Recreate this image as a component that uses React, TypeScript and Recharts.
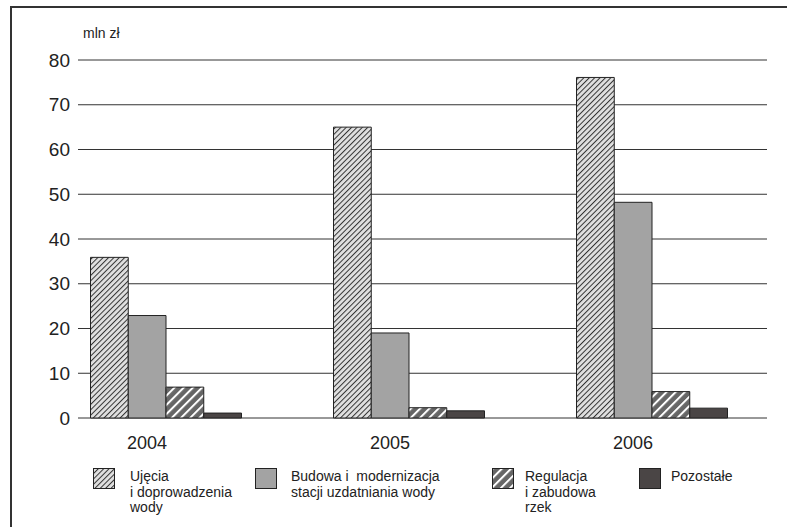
import React from 'react';
import { BarChart, Bar, XAxis, YAxis, CartesianGrid, Legend } from 'recharts';

const YEARS = ['2004', '2005', '2006'];
const UJECIA = [35.9, 65.0, 76.1];
const BUDOWA = [22.9, 19.0, 48.2];
const REGULACJA = [6.9, 2.3, 5.9];
const POZOSTALE = [1.1, 1.6, 2.2];
const Y_TICKS = [0, 10, 20, 30, 40, 50, 60, 70, 80];
const SERIES_KEYS = ['s1', 's2', 's3', 's4'];
const SERIES_LABELS = [
  ['Ujęcia', 'i doprowadzenia', 'wody'],
  ['Budowa i  modernizacja', 'stacji uzdatniania wody'],
  ['Regulacja', 'i zabudowa', 'rzek'],
  ['Pozostałe'],
];
const UNIT = 'mln zł';

const data = YEARS.map((year, i) => ({
  year,
  s1: UJECIA[i],
  s2: BUDOWA[i],
  s3: REGULACJA[i],
  s4: POZOSTALE[i],
}));

const FONT = '"Liberation Sans", Arial, sans-serif';
const ICON_LEFT = [93, 255, 492, 639];
const TEXT_LEFT = [130, 291, 525, 671];

const renderLegend = (props: any) => {
  const { payload } = props;
  return (
    <div style={{ position: 'relative', width: 787, height: 527 }}>
      {(payload || []).map((entry: any) => {
        const i = SERIES_KEYS.indexOf(String(entry.dataKey));
        const lines = String(entry.value).split('\n');
        return (
          <React.Fragment key={i}>
            <svg
              width={22}
              height={21}
              style={{ position: 'absolute', left: ICON_LEFT[i], top: 468, display: 'block' }}
            >
              <rect x={0.5} y={0.5} width={21} height={20} fill={entry.color} stroke="#222" strokeWidth={1} />
            </svg>
            <div
              style={{
                position: 'absolute',
                left: TEXT_LEFT[i],
                top: 469,
                fontFamily: FONT,
                fontSize: 14,
                lineHeight: '15.5px',
                whiteSpace: 'pre',
                color: '#222',
              }}
            >
              {lines.map((l, k) => (
                <div key={k}>{l}</div>
              ))}
            </div>
          </React.Fragment>
        );
      })}
    </div>
  );
};

export default function App() {
  return (
    <div style={{ position: 'absolute', left: 0, top: 0, width: 787, height: 527, background: '#fff', overflow: 'hidden' }}>
      <div
        style={{
          position: 'absolute',
          left: 83,
          top: 25,
          fontFamily: FONT,
          fontSize: 14,
          lineHeight: '16px',
          color: '#222',
          zIndex: 5,
        }}
      >
        {UNIT}
      </div>
      <BarChart
        width={787}
        height={527}
        data={data}
        margin={{ top: 60, right: 20, bottom: 79, left: 18 }}
        barGap={0}
      >
        <defs>
          <pattern id="p1" patternUnits="userSpaceOnUse" width={3.8} height={3.8} patternTransform="rotate(45)">
            <rect x={0} y={0} width={3.8} height={3.8} fill="#e0e0e0" />
            <line x1={0.5} y1={0} x2={0.5} y2={3.8} stroke="#333" strokeWidth={1} />
          </pattern>
          <pattern id="p3" patternUnits="userSpaceOnUse" width={6.5} height={6.5} patternTransform="rotate(45)">
            <rect x={0} y={0} width={6.5} height={6.5} fill="#666" />
            <line x1={1} y1={0} x2={1} y2={6.5} stroke="#fff" strokeWidth={2} />
          </pattern>
        </defs>
        <CartesianGrid vertical={false} stroke="#333" strokeWidth={1} />
        <XAxis
          dataKey="year"
          axisLine={false}
          tickLine={false}
          tickMargin={12}
          padding={{ left: -33.5, right: -6.5 }}
          tick={{ fontSize: 18, fill: '#222', fontFamily: FONT, dx: -19 }}
          height={30}
        />
        <YAxis
          domain={[0, 80]}
          ticks={Y_TICKS}
          axisLine={false}
          tickLine={false}
          width={60}
          tick={{ fontSize: 19, fill: '#222', fontFamily: FONT }}
        />
        <Legend
          verticalAlign="middle"
          layout="horizontal"
          content={renderLegend}
          wrapperStyle={{ left: 0, top: 0, width: 787, height: 527, pointerEvents: 'none' }}
        />
        <Bar dataKey="s1" name={SERIES_LABELS[0].join('\n')} fill="url(#p1)" stroke="#222" strokeWidth={1} barSize={37.75} isAnimationActive={false} />
        <Bar dataKey="s2" name={SERIES_LABELS[1].join('\n')} fill="#a3a3a3" stroke="#222" strokeWidth={1} barSize={37.75} isAnimationActive={false} />
        <Bar dataKey="s3" name={SERIES_LABELS[2].join('\n')} fill="url(#p3)" stroke="#222" strokeWidth={1} barSize={37.75} isAnimationActive={false} />
        <Bar dataKey="s4" name={SERIES_LABELS[3].join('\n')} fill="#4a4545" stroke="#222" strokeWidth={1} barSize={37.75} isAnimationActive={false} />
      </BarChart>
      <div
        style={{
          position: 'absolute',
          left: 10,
          top: 6,
          width: 777,
          height: 521,
          borderTop: '2px solid #333',
          borderLeft: '2px solid #333',
          boxSizing: 'border-box',
          pointerEvents: 'none',
          zIndex: 10,
        }}
      />
    </div>
  );
}
